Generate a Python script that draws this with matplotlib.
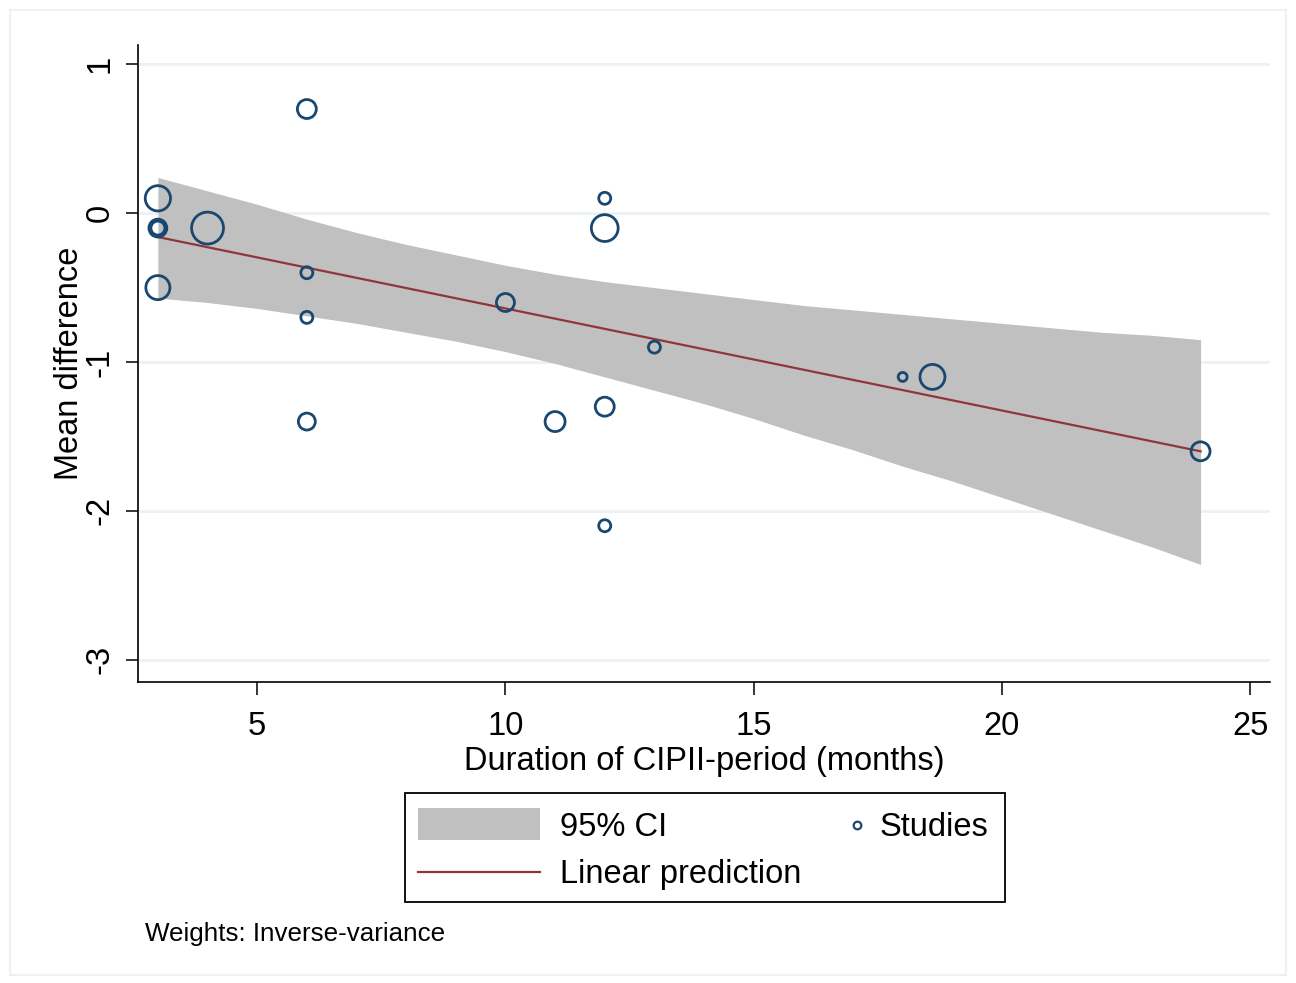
import matplotlib
matplotlib.use("Agg")
import matplotlib.pyplot as plt
from matplotlib.patches import Rectangle
from matplotlib.lines import Line2D

plt.rcParams['font.family'] = ['Liberation Sans', 'DejaVu Sans']
plt.rcParams['axes.unicode_minus'] = False

# study-level data: duration (months), mean difference, relative weight
duration = [3, 3, 3, 3, 3, 4, 6, 6, 6, 6, 10, 11, 12, 12, 12, 12, 13, 18, 18.6, 24]
mean_diff = [0.1, -0.1, -0.1, -0.1, -0.5, -0.1, 0.7, -0.4, -0.7, -1.4,
             -0.6, -1.4, 0.1, -0.1, -1.3, -2.1, -0.9, -1.1, -1.1, -1.6]
weight = [160, 80, 64, 49, 145, 255, 90, 36, 36, 72,
          81, 100, 36, 180, 90, 36, 36, 20, 156, 90]

# linear prediction and 95% CI band
pred_x = [3, 24]
pred_y = [-0.16, -1.60]
ci_x = list(range(3, 25))
ci_upper = [0.24, 0.15, 0.06, -0.04, -0.13, -0.21, -0.28, -0.35, -0.41, -0.46, -0.50,
            -0.54, -0.58, -0.62, -0.65, -0.68, -0.71, -0.74, -0.77, -0.80, -0.82, -0.85]
ci_lower = [-0.57, -0.60, -0.64, -0.69, -0.74, -0.80, -0.86, -0.93, -1.01, -1.10, -1.19,
            -1.28, -1.38, -1.49, -1.59, -1.70, -1.80, -1.91, -2.02, -2.13, -2.24, -2.36]

navy = '#1a476f'
maroon = '#90353b'
band = '#c0c0c0'

fig = plt.figure(figsize=(12.96, 9.83), dpi=100)
fig.patch.set_facecolor('white')
# faint graph-region outline
fig.patches.append(Rectangle((0.008, 0.008), 0.984, 0.982, transform=fig.transFigure,
                             fill=False, edgecolor='#f0f0f0', linewidth=1.5))

ax = fig.add_axes([0.1065, 0.3062, 0.8735, 0.648])
ax.fill_between(ci_x, ci_lower, ci_upper, color=band, linewidth=0, zorder=2)
ax.plot(pred_x, pred_y, color=maroon, linewidth=1.6, zorder=3)
ax.scatter(duration, mean_diff, s=[2.07 * w for w in weight], facecolors='none',
           edgecolors=navy, linewidths=2.0, zorder=4)

ax.set_xlim(2.6, 25.4)
ax.set_ylim(-3.15, 1.13)
ax.set_xticks([5, 10, 15, 20, 25])
ax.set_yticks([-3, -2, -1, 0, 1])
ax.grid(axis='y', color='#eaf2f3', linewidth=2, zorder=0)
ax.set_axisbelow(True)
for s in ['top', 'right']:
    ax.spines[s].set_visible(False)
for s in ['left', 'bottom']:
    ax.spines[s].set_linewidth(1.2)
ax.tick_params(axis='both', length=9, width=1.1, labelsize=23.5)
ax.tick_params(axis='x', pad=12)
ax.tick_params(axis='y', pad=7)
for lbl in ax.get_yticklabels():
    lbl.set_rotation(90)
    lbl.set_va('center')

ax.set_xlabel('Duration of CIPII-period (months)', fontsize=23.5, labelpad=3)
ax.set_ylabel('Mean difference', fontsize=23.5, labelpad=0)

# legend box, drawn in figure coordinates
fig.patches.append(Rectangle((0.3125, 0.0824), 0.463, 0.1109, transform=fig.transFigure,
                             fill=False, edgecolor='black', linewidth=1.3))
fig.patches.append(Rectangle((0.3225, 0.1455), 0.0941, 0.0326, transform=fig.transFigure,
                             facecolor=band, edgecolor='none'))
fig.lines.append(Line2D([0.3225, 0.4166], [0.1129, 0.1129], transform=fig.transFigure,
                        color=maroon, linewidth=1.6))
fig.lines.append(Line2D([0.6613], [0.1607], transform=fig.transFigure, marker='o',
                        markersize=5.5, markerfacecolor='none', markeredgecolor=navy,
                        markeredgewidth=1.6, linestyle='none'))
fig.text(0.4321, 0.1585, '95% CI', fontsize=23.5, va='center', ha='left')
fig.text(0.4321, 0.1100, 'Linear prediction', fontsize=23.5, va='center', ha='left')
fig.text(0.679, 0.1585, 'Studies', fontsize=23.5, va='center', ha='left')

fig.text(0.112, 0.0497, 'Weights: Inverse-variance', fontsize=18.7, va='center', ha='left')

fig.savefig('out.png', dpi=100)
